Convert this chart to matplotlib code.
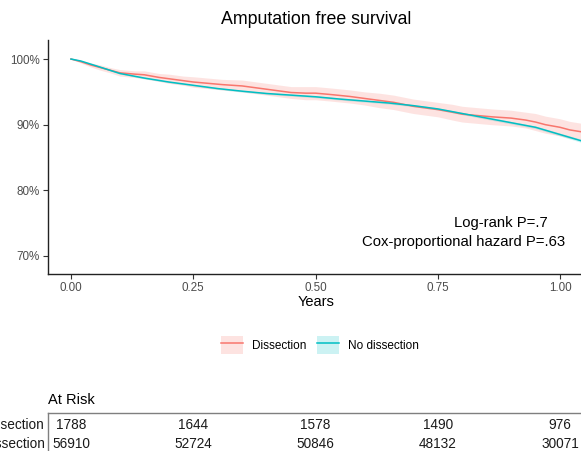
import numpy as np
import matplotlib.pyplot as plt
from matplotlib.patches import Patch
from matplotlib.lines import Line2D

plt.rcParams['font.family'] = ['Liberation Sans', 'DejaVu Sans']

# survival estimates
red_t = [0.00, 0.02, 0.04, 0.06, 0.08, 0.10, 0.13, 0.15, 0.18, 0.20, 0.23, 0.25,
         0.28, 0.31, 0.35, 0.38, 0.41, 0.45, 0.48, 0.50, 0.53, 0.57, 0.60, 0.63,
         0.66, 0.70, 0.73, 0.75, 0.78, 0.80, 0.83, 0.86, 0.90, 0.93, 0.95, 0.97,
         1.00, 1.02, 1.045]
red_s = [1.000, 0.996, 0.991, 0.987, 0.983, 0.979, 0.977, 0.976, 0.972, 0.970, 0.967, 0.965,
         0.963, 0.961, 0.959, 0.956, 0.953, 0.949, 0.948, 0.948, 0.946, 0.943, 0.940, 0.937,
         0.934, 0.928, 0.925, 0.923, 0.919, 0.916, 0.914, 0.912, 0.910, 0.907, 0.904, 0.900,
         0.896, 0.892, 0.889]
red_ci = [0.000, 0.002, 0.003, 0.004, 0.004, 0.005, 0.005, 0.006, 0.006, 0.007, 0.007, 0.008,
          0.008, 0.008, 0.009, 0.009, 0.009, 0.009, 0.010, 0.010, 0.010, 0.010, 0.010, 0.011,
          0.011, 0.011, 0.011, 0.011, 0.012, 0.012, 0.012, 0.012, 0.012, 0.012, 0.013, 0.013,
          0.013, 0.013, 0.013]

teal_t = [0.00, 0.02, 0.05, 0.10, 0.15, 0.20, 0.25, 0.30, 0.35, 0.40, 0.45, 0.50,
          0.55, 0.60, 0.65, 0.70, 0.75, 0.80, 0.85, 0.90, 0.95, 1.00, 1.05]
teal_s = [1.000, 0.997, 0.990, 0.978, 0.971, 0.965, 0.960, 0.955, 0.951, 0.9475, 0.945, 0.9425,
          0.939, 0.936, 0.933, 0.929, 0.924, 0.917, 0.910, 0.903, 0.896, 0.885, 0.874]
teal_ci = [0.000, 0.0005, 0.001, 0.001, 0.0012, 0.0012, 0.0013, 0.0013, 0.0014, 0.0014, 0.0015, 0.0015,
           0.0015, 0.0016, 0.0016, 0.0017, 0.0017, 0.0018, 0.0019, 0.002, 0.002, 0.0022, 0.0024]

# at risk table
risk_times = [0, 0.25, 0.5, 0.75, 1.0]
risk_groups = ['Dissection', 'No dissection']
risk_dissection = [1788, 1644, 1578, 1490, 976]
risk_no_dissection = [56910, 52724, 50846, 48132, 30071]

RED = '#F8766D'
TEAL = '#00BFC4'
W, H = 581, 451
XLIM = ((48 - 71) / 489, (W - 71) / 489)

fig = plt.figure(figsize=(W / 100, H / 100), dpi=100)

# main survival plot
ax = fig.add_axes([48 / W, 1 - 274 / H, (W - 48) / W, (274 - 40) / H])
rs = np.array(red_s)
rc = np.array(red_ci)
ts = np.array(teal_s)
tc = np.array(teal_ci)
ax.fill_between(teal_t, ts - tc, ts + tc, color=TEAL, alpha=0.2, lw=0)
ax.fill_between(red_t, rs - rc, rs + rc, color=RED, alpha=0.2, lw=0)
ax.plot(red_t, red_s, color=RED, lw=1.1)
ax.plot(teal_t, teal_s, color=TEAL, lw=1.1)

ax.set_xlim(*XLIM)
ax.set_ylim(0.6725, 1.029)
ax.set_xticks(risk_times)
ax.set_xticklabels(['0.00', '0.25', '0.50', '0.75', '1.00'])
ax.set_yticks([0.7, 0.8, 0.9, 1.0])
ax.set_yticklabels(['70%', '80%', '90%', '100%'])
ax.tick_params(labelsize=8.4, labelcolor='#4D4D4D', color='#333333', length=3.5, width=0.8, pad=2.5)
for s in ['top', 'right']:
    ax.spines[s].set_visible(False)
for s in ['left', 'bottom']:
    ax.spines[s].set_color('#222222')
    ax.spines[s].set_linewidth(1.0)

fig.text(316 / W, 1 - 20 / H, 'Amputation free survival', ha='center', va='center', fontsize=12.8)
fig.text(316 / W, 1 - 302 / H, 'Years', ha='center', va='center', fontsize=10.5)
fig.text(548 / W, 1 - 223 / H, 'Log-rank P=.7', ha='right', va='center', fontsize=10.7)
fig.text(565 / W, 1 - 242 / H, 'Cox-proportional hazard P=.63', ha='right', va='center', fontsize=10.7)

# legend
handles = [(Patch(facecolor=RED, alpha=0.2, lw=0), Line2D([], [], color=RED, lw=1.1)),
           (Patch(facecolor=TEAL, alpha=0.2, lw=0), Line2D([], [], color=TEAL, lw=1.1))]
fig.legend(handles, risk_groups, loc='center', bbox_to_anchor=(320 / W, 1 - 345 / H), ncol=2,
           frameon=False, fontsize=8.5, handlelength=1.86, handleheight=1.86,
           handletextpad=0.76, columnspacing=0.85, borderpad=0)

# at risk table
fig.text(48 / W, 1 - 400 / H, 'At Risk', ha='left', va='center', fontsize=10.5)
tab = fig.add_axes([48 / W, 1 - 470 / H, (W - 48) / W + 0.05, (470 - 413) / H])
tab.set_xlim(XLIM[0], XLIM[1] + 0.05 * W / 489)
tab.set_ylim(470, 413)
tab.set_xticks([])
tab.set_yticks([])
for s in tab.spines.values():
    s.set_color('#7F7F7F')
    s.set_linewidth(1.0)
row_px = [425, 444]
for y, counts in zip(row_px, [risk_dissection, risk_no_dissection]):
    for t, n in zip(risk_times, counts):
        tab.text(t, y, str(n), ha='center', va='center', fontsize=9.8, color='#1A1A1A')
for y, name in zip(row_px, risk_groups):
    fig.text(45 / W, 1 - y / H, name, ha='right', va='center', fontsize=9.8, color='#1A1A1A')

fig.savefig('out.png', dpi=100)
